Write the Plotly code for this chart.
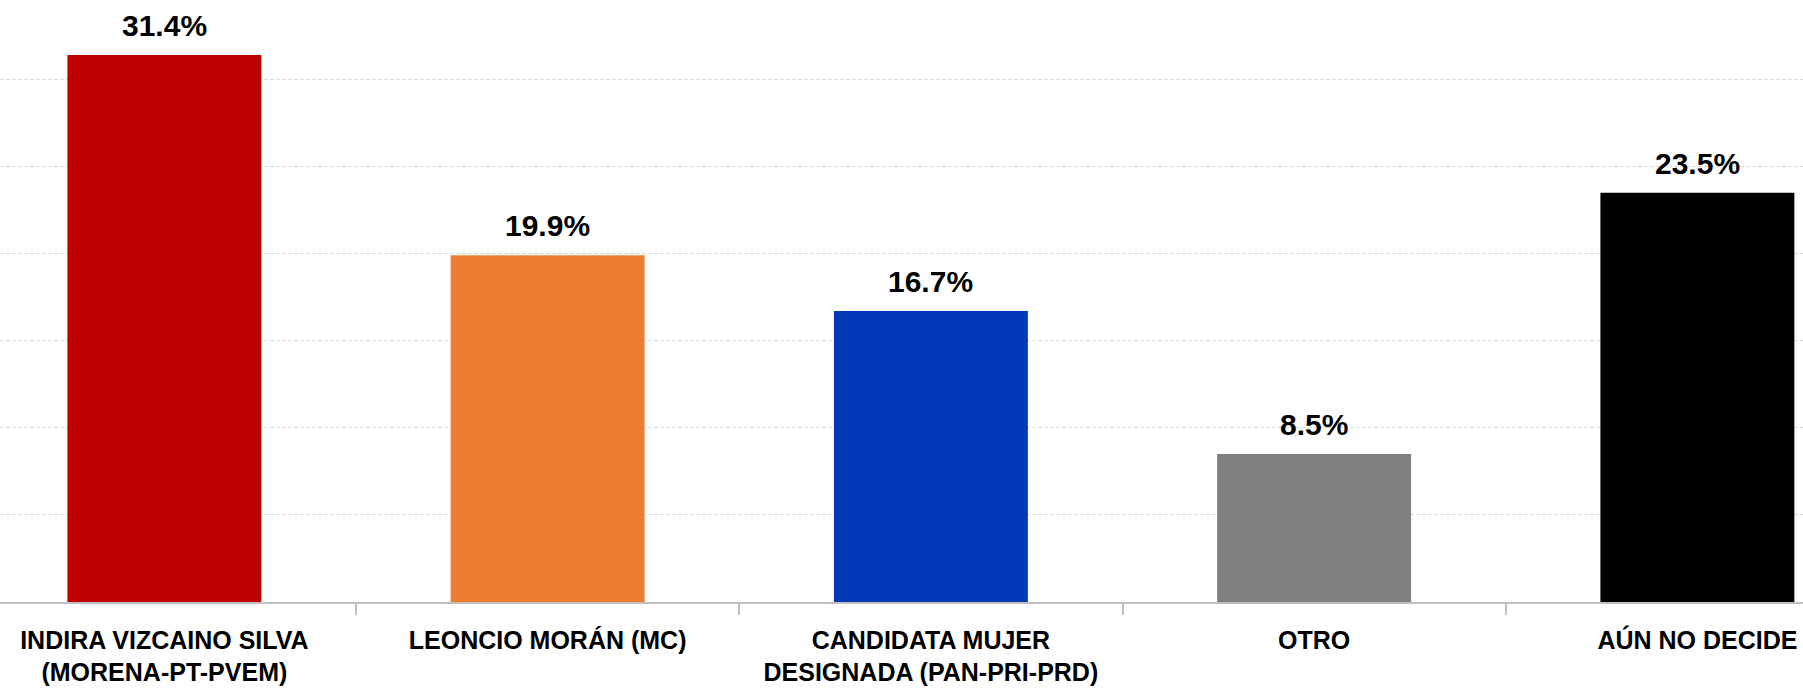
import plotly.graph_objects as go

categories = [
    "INDIRA VIZCAINO SILVA<br>(MORENA-PT-PVEM)",
    "LEONCIO MORÁN (MC)",
    "CANDIDATA MUJER<br>DESIGNADA (PAN-PRI-PRD)",
    "OTRO",
    "AÚN NO DECIDE",
]
values = [31.4, 19.9, 16.7, 8.5, 23.5]
value_labels = ["31.4%", "19.9%", "16.7%", "8.5%", "23.5%"]
colors = ["#C00000", "#ED7D31", "#0038B6", "#808080", "#000000"]

FONT = "Liberation Sans, Arial, sans-serif"

fig = go.Figure()
fig.add_trace(go.Bar(
    x=categories,
    y=values,
    marker=dict(color=colors, line=dict(width=0)),
    width=0.506,
    hoverinfo="skip",
))

for c, v, t in zip(categories, values, value_labels):
    fig.add_annotation(
        x=c, y=v, text="<b>%s</b>" % t, showarrow=False,
        xref="x", yref="y", yanchor="bottom", yshift=11,
        font=dict(family=FONT, size=30, color="#000000"),
    )

fig.update_layout(
    width=1803, height=695,
    margin=dict(l=0, r=0, t=0, b=93),
    paper_bgcolor="white", plot_bgcolor="white",
    showlegend=False,
    font=dict(family=FONT, color="#000000"),
)
fig.update_xaxes(
    range=[-0.4289, 4.2756],
    showline=True, linecolor="#BFBFBF", linewidth=1.5,
    ticks="outside", tickson="boundaries", ticklen=11, tickcolor="#BFBFBF", tickwidth=1.5,
    tickfont=dict(family=FONT, size=25, color="#000000", weight="bold"),
    ticklabelstandoff=15,
    showgrid=False, zeroline=False, fixedrange=True, automargin=False,
)
fig.update_yaxes(
    range=[0, 34.56], dtick=5, tick0=0,
    showgrid=True, gridcolor="#D9D9D9", gridwidth=1, griddash="4px,2px",
    showticklabels=False, zeroline=False, showline=False, ticks="",
    fixedrange=True,
)

fig.write_html(
    "out.html",
    config={"displayModeBar": False},
    post_script="document.body.style.margin='0';document.body.style.overflow='hidden';",
)
